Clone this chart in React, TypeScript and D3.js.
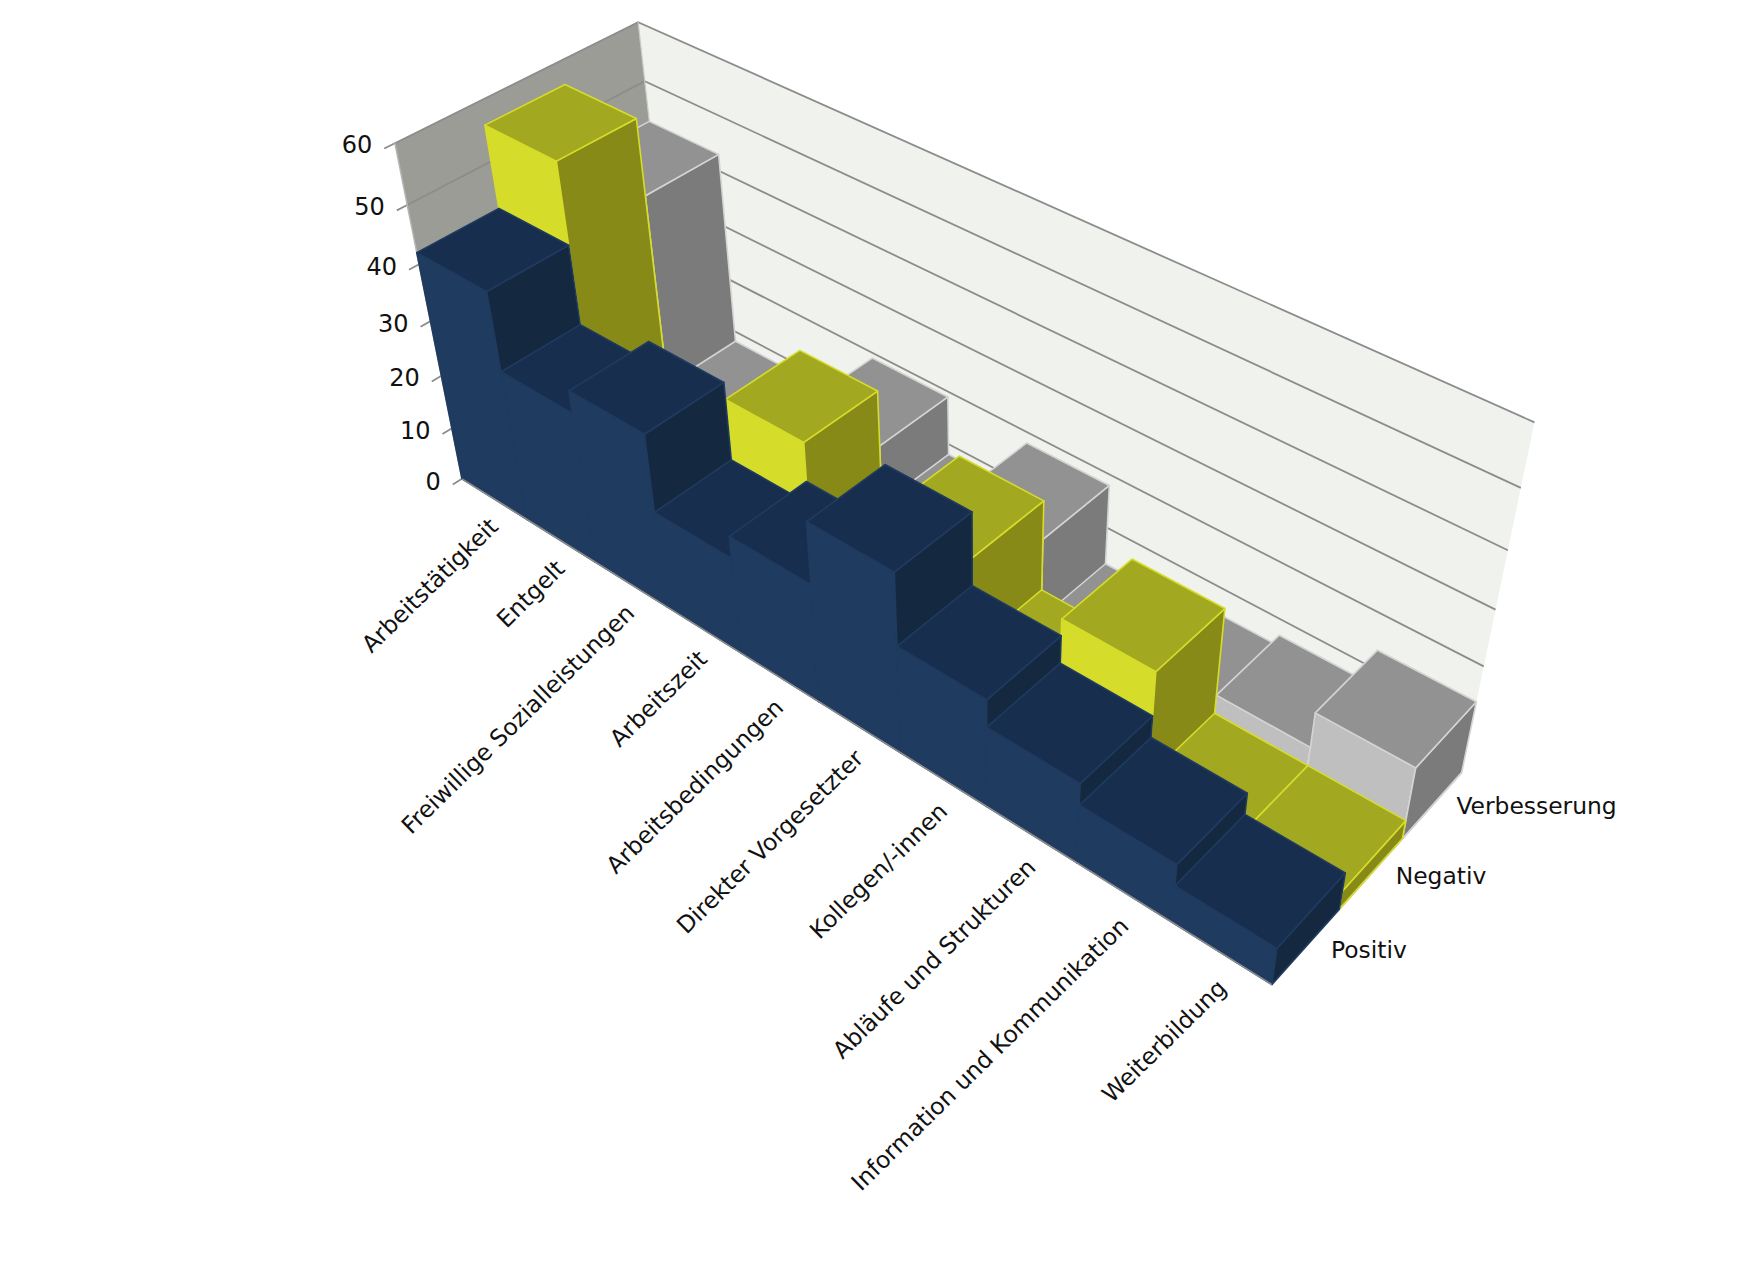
import React from "react";
import * as d3 from "d3";

const categories = ["Arbeitstätigkeit","Entgelt","Freiwillige Sozialleistungen","Arbeitszeit","Arbeitsbedingungen","Direkter Vorgesetzter","Kollegen/-innen","Abläufe und Strukturen","Information und Kommunikation","Weiterbildung"];
const seriesNames = ["Positiv","Negativ","Verbesserung"];
const positiv = [42,28,32,18,22,33,20,15,11,7];
const negativ = [56,8,8,29,10,25,8.5,23,3.5,3.5];
const verbesserung = [43,8,9,19,8,18,3,5,7,13.5];
const valueTicks = [0,10,20,30,40,50,60];
const seriesValues = [positiv,negativ,verbesserung];

const palette = [
  {front:"#1f3b60",top:"#182e4f",side:"#14283f",edge:"#1f3b60"},
  {front:"#d5dc2a",top:"#a2a81f",side:"#888a18",edge:"#d5dc2a"},
  {front:"#bfbfbf",top:"#929292",side:"#7b7b7b",edge:"#d4d4d4"},
];

const W=1754,H=1266,K=1754/1568;
type P=[number,number];
const s=(x:number,y:number):P=>[x*K,y*K];
const O=s(413,428), QX=s(1137,880), QY=s(603,309), QZ=s(353,128);
const VX=s(-2274,-1250), VY=s(2978,-1178), VZ=s(878,2753);
const lam=(Q:P,V:P)=>{const i=Math.abs(V[0]-Q[0])>Math.abs(V[1]-Q[1])?0:1;return (Q[i]-O[i])/(V[i]-Q[i]);};
const lx=lam(QX,VX), ly=lam(QY,VY), lz=lam(QZ,VZ);
const proj=(x:number,y:number,z:number):P=>{
  const w=1+x*lx+y*ly+z*lz;
  return [0,1].map(i=>(O[i]+x*lx*VX[i]+y*ly*VY[i]+z*lz*VZ[i])/w) as P;
};
const xScale=d3.scaleBand<string>().domain(categories).range([0,1]);
const yScale=d3.scaleBand<string>().domain(seriesNames).range([0,1]);
const zScale=d3.scaleLinear().domain([0,60]).range([0,1]);
const line=d3.line<P>().x(d=>d[0]).y(d=>d[1]);
const poly=(pts:P[])=>line(pts)+"Z";
const font="'DejaVu Sans', Verdana, sans-serif";
const GRID="#8c8c8c";

export default function App(){
  const faces:React.ReactElement[]=[];
  for(let j=seriesNames.length-1;j>=0;j--){
    const c=palette[j];
    const y0=yScale(seriesNames[j])!,y1=y0+yScale.bandwidth();
    categories.forEach((cat,i)=>{
      const x0=xScale(cat)!,x1=x0+xScale.bandwidth(),z=zScale(seriesValues[j][i]);
      const st={stroke:c.edge,strokeWidth:1.6,strokeLinejoin:"round" as const};
      faces.push(<path key={`f${j}${i}`} d={poly([proj(x0,y0,0),proj(x1,y0,0),proj(x1,y0,z),proj(x0,y0,z)])} fill={c.front} {...st}/>);
      faces.push(<path key={`s${j}${i}`} d={poly([proj(x1,y0,0),proj(x1,y1,0),proj(x1,y1,z),proj(x1,y0,z)])} fill={c.side} {...st}/>);
      faces.push(<path key={`t${j}${i}`} d={poly([proj(x0,y0,z),proj(x1,y0,z),proj(x1,y1,z),proj(x0,y1,z)])} fill={c.top} {...st}/>);
    });
  }
  return <svg width={W} height={H} viewBox={`0 0 ${W} ${H}`} style={{position:"absolute",left:0,top:0,display:"block",background:"#fff"}} fontFamily={font}>
    <path d={poly([proj(0,0,0),proj(1,0,0),proj(1,1,0),proj(0,1,0)])} fill="#fff"/>
    <path d={poly([proj(0,0,0),proj(0,1,0),proj(0,1,1),proj(0,0,1)])} fill="#9a9c95"/>
    <path d={poly([proj(0,1,0),proj(1,1,0),proj(1,1,1),proj(0,1,1)])} fill="#f0f3ed"/>
    {valueTicks.map(v=>{const z=zScale(v);const a=proj(0,0,z),b=proj(0,1,z),c=proj(1,1,z),t=proj(0,-0.04,z);
      return <g key={v}>
        <path d={line([t,a,b,c])!} fill="none" stroke={GRID} strokeWidth={1.8}/>
        <text x={t[0]-12} y={t[1]+5} fontSize={24} textAnchor="end" fill="#111">{v}</text>
      </g>;})}
    <path d={line([proj(0,0,0),proj(0,0,1)])!} fill="none" stroke="#b5b5b5" strokeWidth={1.5}/>
    <path d={line([proj(0,1,0),proj(0,1,1)])!} fill="none" stroke="#c8c8c8" strokeWidth={1.2}/>
    <path d={line([proj(1,0,0),proj(1,1,0)])!} fill="none" stroke="#c8c8c8" strokeWidth={2}/>
    {faces}
    <path d={line([proj(0,0,0),proj(1,0,0)])!} fill="none" stroke="#8c8c8c" strokeWidth={1.5}/>
    {categories.map(cat=>{const p=proj(xScale(cat)!+xScale.bandwidth()/2,-0.09,0);
      return <text key={cat} transform={`translate(${p[0]+26},${p[1]+16}) rotate(-44.5)`} fontSize={23.4} textAnchor="end" fill="#111">{cat}</text>;})}
    {seriesNames.map(n=>{const p=proj(1.03,yScale(n)!+yScale.bandwidth()/2,0);
      return <text key={n} x={p[0]-6} y={p[1]-7} fontSize={23.4} fill="#111">{n}</text>;})}
  </svg>;
}
